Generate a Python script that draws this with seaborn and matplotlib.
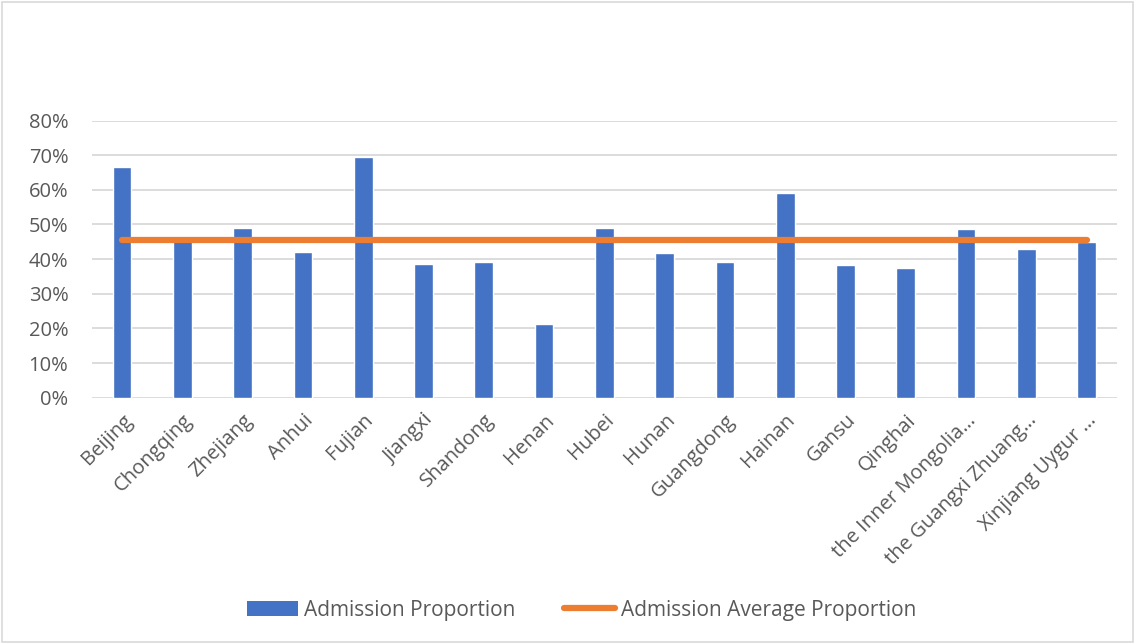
import numpy as np
import pandas as pd
import seaborn as sns
import matplotlib.pyplot as plt
from matplotlib.patches import Patch, Rectangle
from matplotlib.lines import Line2D
from matplotlib.ticker import PercentFormatter

provinces = ["Beijing", "Chongqing", "Zhejiang", "Anhui", "Fujian", "Jiangxi",
             "Shandong", "Henan", "Hubei", "Hunan", "Guangdong", "Hainan",
             "Gansu", "Qinghai", "the Inner Mongolia…", "the Guangxi Zhuang…",
             "Xinjiang Uygur …"]
admission = [0.666, 0.467, 0.490, 0.422, 0.696, 0.385, 0.391, 0.213, 0.490,
             0.417, 0.393, 0.590, 0.382, 0.375, 0.486, 0.429, 0.449]
average = [0.456] * len(provinces)

df = pd.DataFrame({"province": provinces, "admission": admission, "average": average})

sns.set_style("white")
plt.rcParams['font.family'] = ['Open Sans', 'DejaVu Sans']

blue = "#4472C4"
orange = "#ED7D31"
grey_txt = "#595959"

fig = plt.figure(figsize=(11.36, 6.43), dpi=100)
ax = fig.add_axes([0.081, 0.3815, 0.902, 0.431])

sns.barplot(data=df, x="province", y="admission", color=blue, width=0.31,
            saturation=1, ax=ax, zorder=2)
ax.plot(np.arange(len(df)), df["average"], color=orange, lw=4.5,
        solid_capstyle="round", zorder=3)

ax.set_ylim(0, 0.8)
ax.set_xlim(-0.5, len(df) - 0.5)
ax.set_yticks(np.arange(0, 0.81, 0.1))
ax.yaxis.set_major_formatter(PercentFormatter(1.0, decimals=0))
ax.grid(axis="y", color="#D9D9D9", lw=1.3, zorder=0)
ax.set_axisbelow(True)
for s in ax.spines.values():
    s.set_visible(False)
ax.set_xlabel("")
ax.set_ylabel("")
ax.tick_params(axis="both", length=0, colors=grey_txt, labelsize=14.5)
ax.tick_params(axis="y", pad=17)
plt.setp(ax.get_xticklabels(), rotation=45, ha="right", rotation_mode="anchor")
ax.tick_params(axis="x", pad=9)

handles = [Patch(facecolor=blue, edgecolor="none"),
           Line2D([0], [0], color=orange, lw=4.5, solid_capstyle="round")]
fig.legend(handles, ["Admission Proportion", "Admission Average Proportion"],
           loc="center", bbox_to_anchor=(0.512, 0.051), ncol=2, frameon=False,
           fontsize=15, labelcolor=grey_txt, handlelength=2.45, handletextpad=0.3,
           columnspacing=2.3)

fig.patches.append(Rectangle((0.002, 0.002), 0.995, 0.995, transform=fig.transFigure,
                             fill=False, edgecolor="#D9D9D9", lw=1.2))

fig.savefig("out.png", dpi=100)
